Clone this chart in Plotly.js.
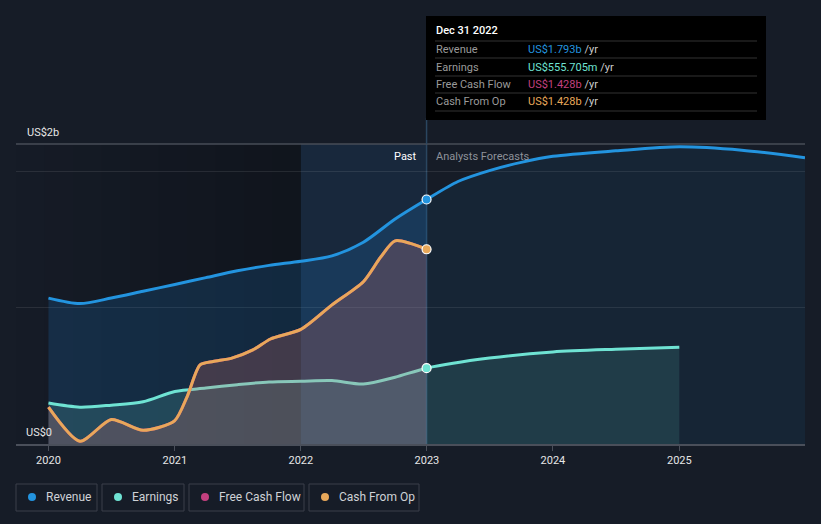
<!DOCTYPE html>
<html><head><meta charset="utf-8">
<script src="https://cdn.plot.ly/plotly-3.0.1.min.js"></script>
<style>html,body{margin:0;padding:0;background:#161c27;}#chart{width:821px;height:524px;}</style>
</head><body><div id="chart"></div>
<script>
// ---- data (US$ billions) ----
const revPastDates = ['2020-01-01','2020-04-01','2020-07-01','2020-10-01','2021-01-01','2021-04-01','2021-07-01','2021-10-01','2022-01-01','2022-04-01','2022-07-01','2022-10-01','2022-12-31'];
const revPastVals  = [1.07,1.03,1.07,1.12,1.17,1.22,1.27,1.31,1.34,1.38,1.48,1.65,1.793];
const revFcDates = ['2022-12-31','2023-04-01','2023-07-01','2023-10-01','2024-01-01','2024-07-01','2025-01-01','2025-07-01','2025-12-31'];
const revFcVals  = [1.793,1.925,2.005,2.065,2.11,2.15,2.18,2.155,2.10];

const earnPastDates = ['2020-01-01','2020-04-01','2020-07-01','2020-10-01','2021-01-01','2021-04-01','2021-07-01','2021-10-01','2022-01-01','2022-04-01','2022-07-01','2022-10-01','2022-12-31'];
const earnPastVals  = [0.30,0.27,0.285,0.31,0.385,0.41,0.435,0.455,0.46,0.465,0.44,0.49,0.556];
const earnFcDates = ['2022-12-31','2023-07-01','2024-01-01','2024-07-01','2025-01-01'];
const earnFcVals  = [0.556,0.63,0.675,0.695,0.71];

const cfoDates = ['2020-01-01','2020-04-01','2020-07-01','2020-10-01','2020-12-31','2021-02-06','2021-03-15','2021-04-22','2021-06-15','2021-08-15','2021-10-05','2022-01-01','2022-04-01','2022-07-01','2022-08-20','2022-10-01','2022-12-31'];
const cfoVals  = [0.27,0.02,0.18,0.10,0.17,0.35,0.58,0.605,0.63,0.69,0.77,0.84,1.02,1.19,1.37,1.49,1.428];
const fcfDates = cfoDates;
const fcfVals  = cfoVals;

const xTicks = ['2020-01-01','2021-01-01','2022-01-01','2023-01-01','2024-01-01','2025-01-01'];
const xTickLabels = ['2020','2021','2022','2023','2024','2025'];

const tipDate = 'Dec 31 2022';
const tipRows = [['Revenue','US$1.793b','#2394df'],['Earnings','US$555.705m','#6fe3d3'],['Free Cash Flow','US$1.428b','#c3407f'],['Cash From Op','US$1.428b','#e8a85a']];
const legendItems = [['Revenue','#2394df'],['Earnings','#6fe3d3'],['Free Cash Flow','#c3407f'],['Cash From Op','#e8a85a']];

// ---- helpers for pixel -> paper ----
const L=16, R=805, T=144, B=444;
const px = x => (x-L)/(R-L);
const py = y => (B-y)/(B-T);

const F = 'Roboto, "Noto Sans", sans-serif';
const revAllDates = revPastDates.concat(revFcDates.slice(1));
const revAllVals = revPastVals.concat(revFcVals.slice(1));
const earnAllDates = earnPastDates.concat(earnFcDates.slice(1));
const earnAllVals = earnPastVals.concat(earnFcVals.slice(1));

const fillT = (x,y,c,s)=>({x:x,y:y,type:'scatter',mode:'lines',line:{width:0,shape:'spline',smoothing:s||0.8},fill:'tozeroy',fillcolor:c,hoverinfo:'skip'});
const lineT = (x,y,c,s)=>({x:x,y:y,type:'scatter',mode:'lines',line:{color:c,width:3,shape:'spline',smoothing:s||0.8},hoverinfo:'skip'});

const traces = [
  fillT(revPastDates,revPastVals,'rgba(33,150,243,0.16)'),
  fillT(revFcDates,revFcVals,'rgba(33,150,243,0.07)'),
  lineT(revAllDates,revAllVals,'#2394df'),
  fillT(earnPastDates,earnPastVals,'rgba(111,227,211,0.16)'),
  fillT(earnFcDates,earnFcVals,'rgba(111,227,211,0.12)'),
  lineT(earnAllDates,earnAllVals,'#6fe3d3'),
  {x:fcfDates,y:fcfVals,type:'scatter',mode:'lines',line:{color:'#c3407f',width:3,shape:'spline',smoothing:0.7},fill:'tozeroy',fillcolor:'rgba(195,64,127,0.14)',hoverinfo:'skip'},
  {x:cfoDates,y:cfoVals,type:'scatter',mode:'lines',line:{color:'#e8a85a',width:3,shape:'spline',smoothing:0.7},fill:'tozeroy',fillcolor:'rgba(232,168,90,0.12)',hoverinfo:'skip'},
  {x:['2022-12-31','2022-12-31','2022-12-31'],y:[revPastVals[revPastVals.length-1],earnPastVals[earnPastVals.length-1],cfoVals[cfoVals.length-1]],type:'scatter',mode:'markers',
   marker:{size:9,color:['#2394df','#6fe3d3','#e8a85a'],line:{color:'#ffffff',width:1.2}},hoverinfo:'skip'}
];

const shapes = [];
// darker gradient region left of 2022
const strips = 10;
for(let i=0;i<strips;i++){
  const x0 = L + (301-L)*i/strips, x1 = L + (301-L)*(i+1)/strips;
  shapes.push({type:'rect',xref:'paper',yref:'paper',x0:px(x0),x1:px(x1),y0:0,y1:1,fillcolor:'rgba(0,0,0,'+(0.02+0.025*i).toFixed(3)+')',line:{width:0},layer:'below'});
}
// past highlight band
shapes.push({type:'rect',xref:'x',yref:'paper',x0:'2022-01-01',x1:'2022-12-31',y0:0,y1:1,fillcolor:'rgba(40,130,210,0.12)',line:{width:0},layer:'below'});
// top boundary line
shapes.push({type:'line',xref:'paper',yref:'paper',x0:0,x1:1,y0:1,y1:1,line:{color:'#474c57',width:1.5}});
// vertical line at present (below traces inside plot)
shapes.push({type:'line',xref:'x',yref:'paper',x0:'2022-12-31',x1:'2022-12-31',y0:0,y1:1,line:{color:'#2a4660',width:1.5},layer:'below'});
shapes.push({type:'line',xref:'x',yref:'paper',x0:'2022-12-31',x1:'2022-12-31',y0:1,y1:py(118),line:{color:'#2a4660',width:1.5}});
// tooltip box
shapes.push({type:'rect',xref:'paper',yref:'paper',x0:px(426),x1:px(766),y0:py(120),y1:py(16),fillcolor:'#000000',line:{width:0}});
[41,58,76,93,111].forEach(y=>shapes.push({type:'line',xref:'paper',yref:'paper',x0:px(435),x1:px(757),y0:py(y),y1:py(y),line:{color:'#333333',width:1}}));
// legend boxes
const legBoxes=[[16,97],[102,184],[189,304],[309,419]];
legBoxes.forEach((b,i)=>{
  shapes.push({type:'rect',xref:'paper',yref:'paper',x0:px(b[0]),x1:px(b[1]),y0:py(511),y1:py(484),fillcolor:'rgba(0,0,0,0)',line:{color:'#3a3f4a',width:1}});
  shapes.push({type:'circle',xref:'paper',yref:'paper',x0:px(b[0]+12),x1:px(b[0]+20),y0:py(501),y1:py(493),fillcolor:legendItems[i][1],line:{width:0}});
});

const ann = [];
const A = (x,y,text,color,size,anchor,weight)=>ann.push({xref:'paper',yref:'paper',x:px(x),y:py(y),text:text,showarrow:false,xanchor:anchor||'left',yanchor:'middle',font:{family:F,size:size||11,color:color,weight:weight||400}});
A(25,132,'US$2b','#e6e6e6',11);
A(24,432,'US$0','#e6e6e6',11);
A(419,156,'Past','#ffffff',11,'right');
A(434,156,'Analysts Forecasts','#8e929a',11);
A(434,31,tipDate,'#ffffff',11,'left',500);
tipRows.forEach((r,i)=>{
  const y=[49,67,84,101][i];
  A(434,y,r[0],'#9a9a9a',11);
  A(526,y,'<span style="color:'+r[2]+'">'+r[1]+'</span> <span style="color:#cccccc">/yr</span>',r[2],11);
});
legendItems.forEach((it,i)=>A(legBoxes[i][0]+28,497,it[0],'#cfd2d6',12));

const layout = {
  width:821,height:524,
  margin:{l:L,r:821-R,t:T,b:524-B,pad:0},
  paper_bgcolor:'#161c27',plot_bgcolor:'rgba(0,0,0,0)',
  showlegend:false,
  font:{family:F,color:'#dddddd'},
  xaxis:{type:'date',range:['2019-09-29','2025-12-31'],tickvals:xTicks,ticktext:xTickLabels,showgrid:false,zeroline:false,
         showline:true,linecolor:'#4a4f5a',linewidth:1.5,ticks:'outside',ticklen:5,tickcolor:'#4a4f5a',tickfont:{family:F,size:11,color:'#e6e6e6'},fixedrange:true},
  yaxis:{range:[0,2.2],tickvals:[1,2],showticklabels:false,showgrid:true,gridcolor:'rgba(255,255,255,0.09)',gridwidth:1,zeroline:false,showline:false,fixedrange:true},
  shapes:shapes,annotations:ann
};
Plotly.newPlot('chart',traces,layout,{displayModeBar:false,staticPlot:true});
</script></body></html>
